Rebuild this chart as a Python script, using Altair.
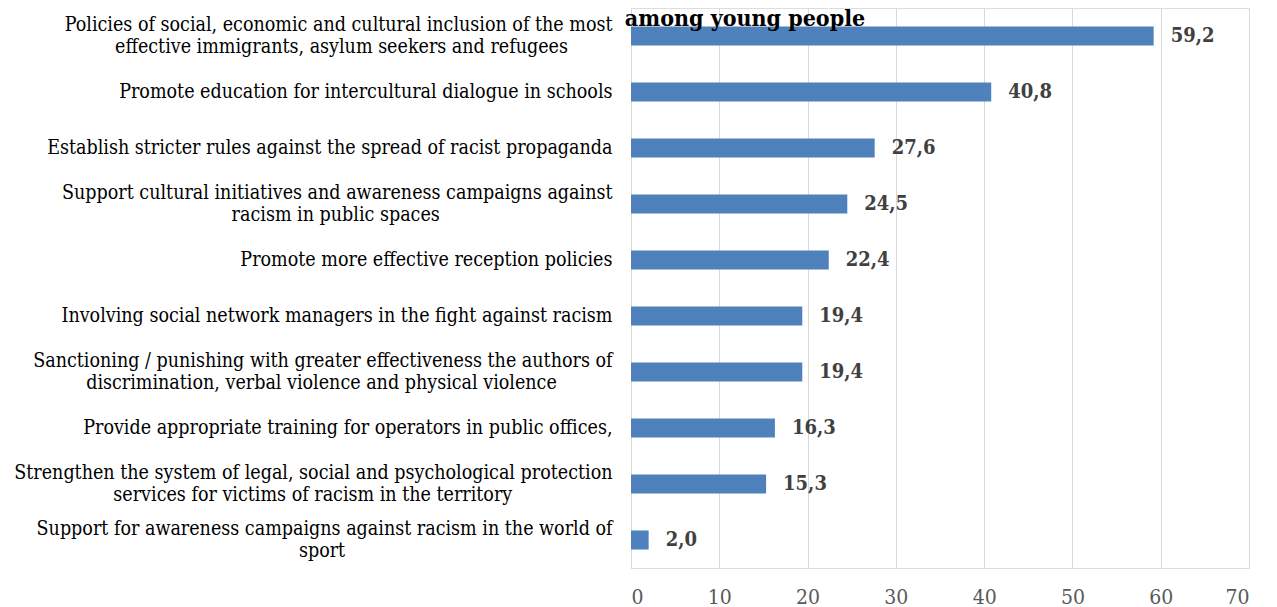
import altair as alt
import pandas as pd

categories = [
    "Policies of social, economic and cultural inclusion of the most|effective immigrants, asylum seekers and refugees",
    "Promote education for intercultural dialogue in schools",
    "Establish stricter rules against the spread of racist propaganda",
    "Support cultural initiatives and awareness campaigns against|racism in public spaces",
    "Promote more effective reception policies",
    "Involving social network managers in the fight against racism",
    "Sanctioning / punishing with greater effectiveness the authors of|discrimination, verbal violence and physical violence",
    "Provide appropriate training for operators in public offices,",
    "Strengthen the system of legal, social and psychological protection|services for victims of racism in the territory",
    "Support for awareness campaigns against racism in the world of|sport",
]
values = [59.2, 40.8, 27.6, 24.5, 22.4, 19.4, 19.4, 16.3, 15.3, 2.0]
value_labels = ["59,2", "40,8", "27,6", "24,5", "22,4", "19,4", "19,4", "16,3", "15,3", "2,0"]
title_text = "among young people"

# trailing no-break spaces (closed by a zero-width space so they survive
# trimming) so the second line of a wrapped label sits centred under the first
second_line_pad = [8, 0, 0, 31, 0, 0, 10, 0, 18, 48]
display = [c + ("\u00a0" * p + "\u200b" if p else "") for c, p in zip(categories, second_line_pad)]

FONT = "DejaVu Serif Condensed, Liberation Serif, serif"

df = pd.DataFrame({"cat": display, "val": values, "lab": value_labels})

y_enc = alt.Y(
    "cat:N",
    sort=display,
    scale=alt.Scale(paddingInner=0.66, paddingOuter=0.33),
    axis=alt.Axis(
        title=None,
        labelExpr="split(datum.label, '|')",
        labelFont=FONT,
        labelFontSize=19.5,
        labelColor="#000000",
        labelLineHeight=22,
        labelPadding=19,
        labelLimit=700,
        labelOffset={"condition": {"test": "indexof(datum.value, '|') >= 0", "value": -11}, "value": 0},
        ticks=False,
        domain=True,
        domainColor="#D9D9D9",
        domainWidth=1,
        grid=False,
    ),
)
x_enc = alt.X(
    "val:Q",
    scale=alt.Scale(domain=[0, 70], nice=False),
    axis=alt.Axis(
        title=None,
        values=[0, 10, 20, 30, 40, 50, 60, 70],
        labelFont=FONT,
        labelFontSize=21,
        labelColor="#595959",
        labelPadding=18,
        ticks=False,
        domain=False,
        grid=True,
        gridColor="#D9D9D9",
        gridWidth=1,
    ),
)

bars = alt.Chart(df).mark_bar(color="#4F81BD").encode(x=x_enc, y=y_enc)
texts = alt.Chart(df).mark_text(
    align="left", baseline="middle", dx=17, font=FONT,
    fontSize=20, fontWeight="bold", color="#404040"
).encode(x="val:Q", y=alt.Y("cat:N", sort=display), text="lab:N")

title = alt.Chart(pd.DataFrame({"t": [title_text]})).mark_text(
    align="center", baseline="alphabetic", font=FONT,
    fontSize=23, fontWeight="bold", color="#000000"
).encode(x=alt.value(114), y=alt.value(18), text="t:N")

chart = alt.layer(bars, texts, title).properties(
    width=618, height=560,
    autosize=alt.AutoSizeParams(type="none"),
    padding={"left": 623, "top": 0, "right": 20, "bottom": 45},
).configure_view(stroke=None).configure(background="white")

chart.save("out.html", embed_options={"renderer": "svg", "actions": False})
